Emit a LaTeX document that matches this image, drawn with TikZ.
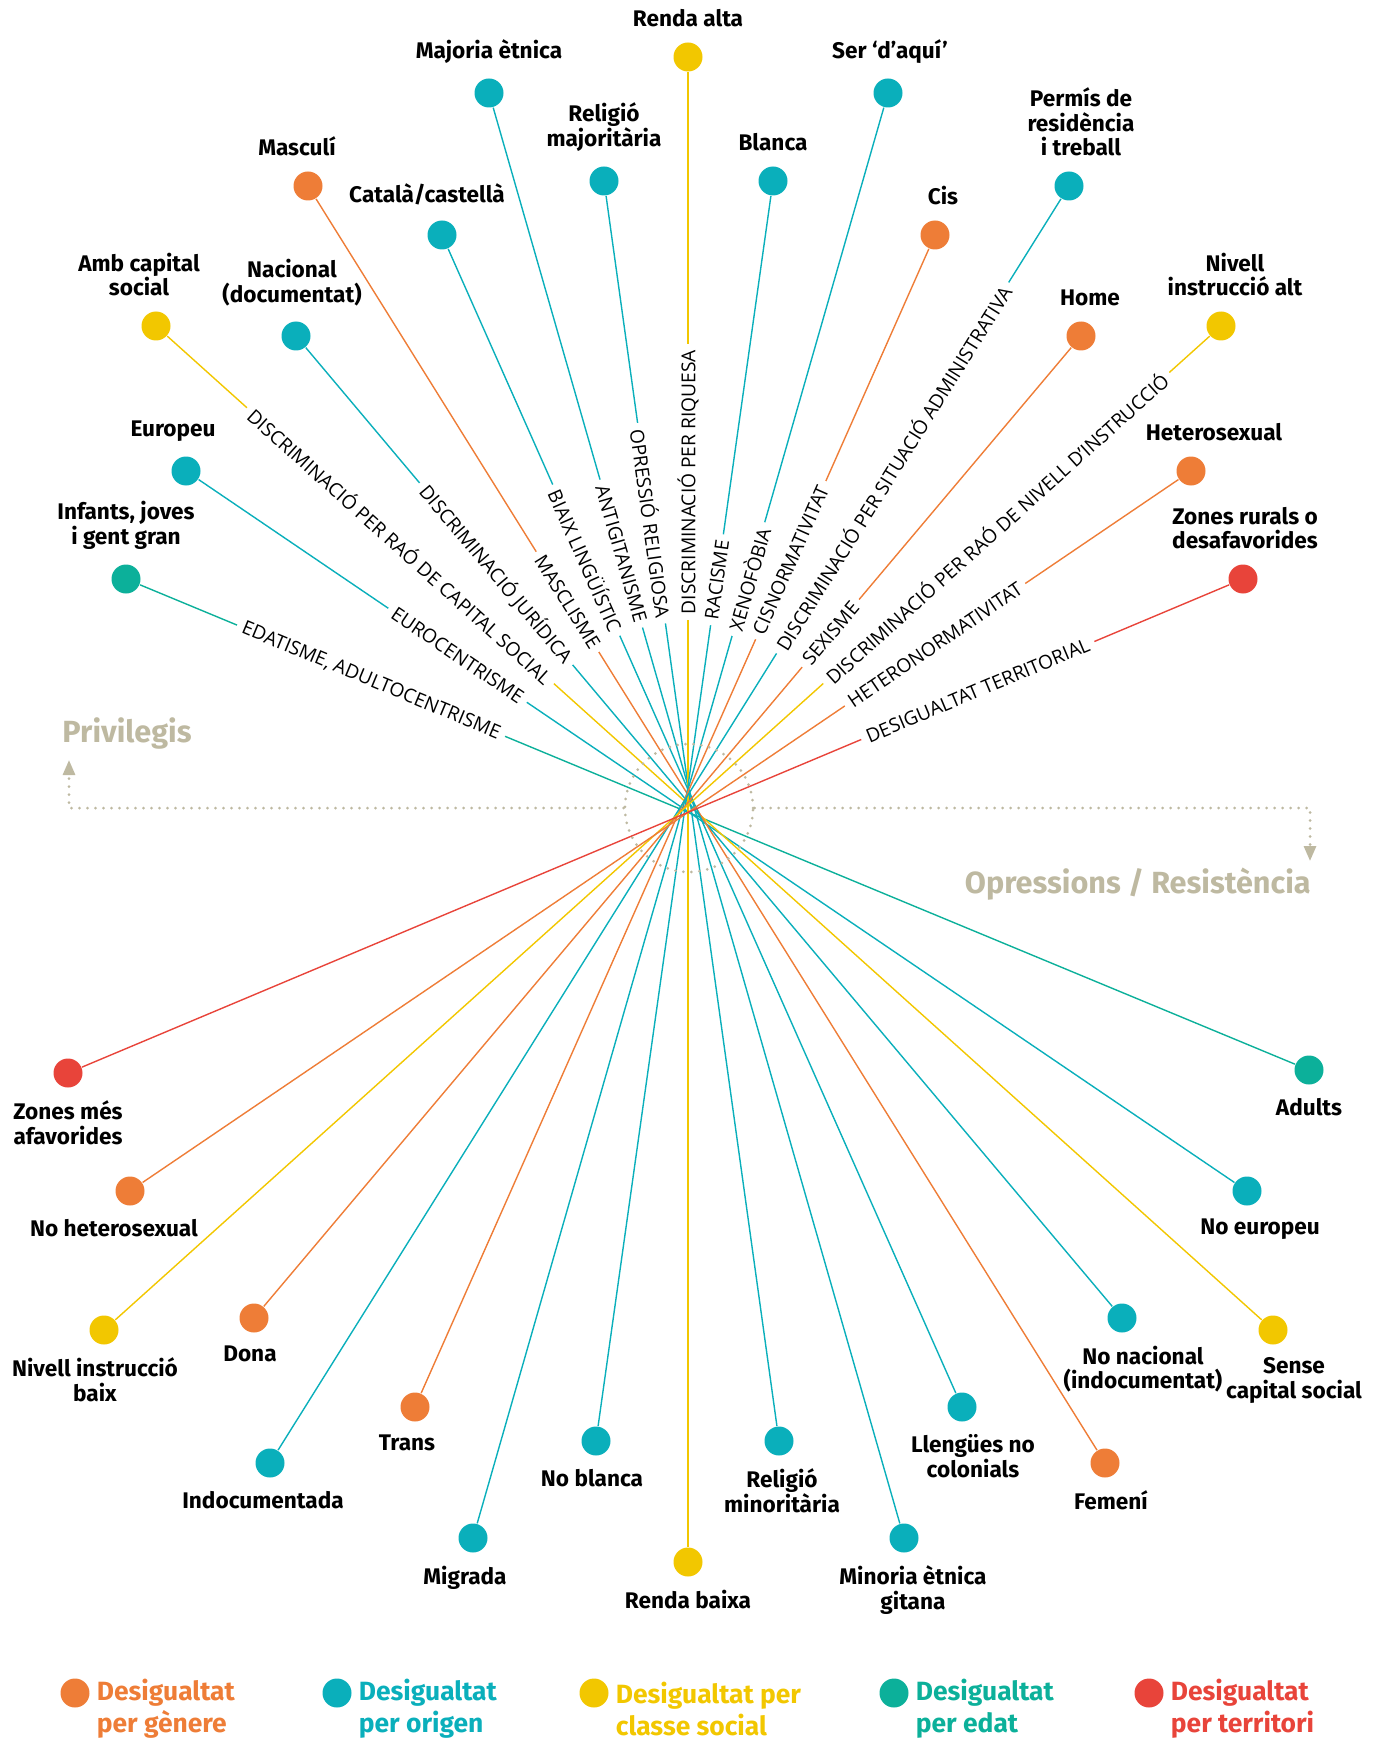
\documentclass[tikz,border=0pt]{standalone}
\usepackage{fontspec}
\setmainfont{Fira Sans}
\newfontfamily\capsfam{Open Sans}
\usetikzlibrary{arrows.meta,positioning}
\definecolor{genere}{HTML}{EE7D37}
\definecolor{origen}{HTML}{0AAFBB}
\definecolor{classe}{HTML}{F2C700}
\definecolor{edat}{HTML}{0CB09A}
\definecolor{territori}{HTML}{E8443A}
\definecolor{eixcol}{HTML}{BEB9A1}
\newcommand{\etiqfont}{\bfseries\fontsize{11.3}{12.3}\selectfont}
\newcommand{\oprfont}{\capsfam\fontsize{9.6}{10}\selectfont}
\newcommand{\eixfont}{\bfseries\fontsize{15.3}{17}\selectfont}
\newcommand{\llegfont}{\bfseries\fontsize{13.2}{16}\selectfont}

\begin{document}
\begin{tikzpicture}[x=0.5pt, y=-0.5pt, line width=0.7pt]
	  \tikzstyle{punt}=[circle, inner sep=0pt, minimum size=14.5pt]
	  \tikzstyle{etiq}=[font=\etiqfont, align=center, inner sep=1pt]
	  \tikzstyle{opr}=[font=\oprfont, text=black, fill=white, sloped, inner sep=3pt]
	  \tikzstyle{eix}=[eixcol, line width=1.5pt, line cap=round, dash pattern=on 0pt off 4pt]
	  \tikzstyle{lleg}=[font=\llegfont, align=left, inner sep=0pt]

	  \useasboundingbox (0,0) rectangle (1378,1738);

	  % privilegis
	  \node[punt, fill=classe]    (rendaA)  at (688,57)    {};
	  \node[punt, fill=origen]    (majA)    at (489,93)    {};
	  \node[punt, fill=origen]    (serA)    at (888,93)    {};
	  \node[punt, fill=origen]    (relA)    at (604,181)   {};
	  \node[punt, fill=origen]    (blancaA) at (773,181)   {};
	  \node[punt, fill=genere]    (mascA)   at (308,186)   {};
	  \node[punt, fill=origen]    (permisA) at (1069,186)  {};
	  \node[punt, fill=origen]    (catA)    at (442,235)   {};
	  \node[punt, fill=genere]    (cisA)    at (935,235)   {};
	  \node[punt, fill=classe]    (capA)    at (156,326)   {};
	  \node[punt, fill=classe]    (instrA)  at (1221,326)  {};
	  \node[punt, fill=origen]    (nacA)    at (296,336)   {};
	  \node[punt, fill=genere]    (homeA)   at (1081,336)  {};
	  \node[punt, fill=origen]    (euroA)   at (186,471)   {};
	  \node[punt, fill=genere]    (heteroA) at (1191,471)  {};
	  \node[punt, fill=edat]      (edatA)   at (126,579)   {};
	  \node[punt, fill=territori] (terrA)   at (1243,579)  {};

	  % opressions
	  \node[punt, fill=territori] (terrB)   at (68,1073)   {};
	  \node[punt, fill=edat]      (edatB)   at (1309,1070) {};
	  \node[punt, fill=genere]    (heteroB) at (130,1191)  {};
	  \node[punt, fill=origen]    (euroB)   at (1247,1191) {};
	  \node[punt, fill=classe]    (instrB)  at (104,1330)  {};
	  \node[punt, fill=classe]    (capB)    at (1273,1330) {};
	  \node[punt, fill=genere]    (homeB)   at (254,1318)  {};
	  \node[punt, fill=origen]    (nacB)    at (1122,1318) {};
	  \node[punt, fill=genere]    (cisB)    at (415,1407)  {};
	  \node[punt, fill=origen]    (catB)    at (962,1407)  {};
	  \node[punt, fill=origen]    (permisB) at (270,1463)  {};
	  \node[punt, fill=genere]    (mascB)   at (1105,1463) {};
	  \node[punt, fill=origen]    (blancaB) at (596,1441)  {};
	  \node[punt, fill=origen]    (relB)    at (779,1441)  {};
	  \node[punt, fill=origen]    (serB)    at (473,1538)  {};
	  \node[punt, fill=origen]    (majB)    at (904,1538)  {};
	  \node[punt, fill=classe]    (rendaB)  at (688,1562)  {};

	  \path (edatA)   edge[edat]      node[opr, pos=.20]  {EDATISME, ADULTOCENTRISME} (edatB)
	        (euroA)   edge[origen]    node[opr, pos=.25]  {EUROCENTRISME} (euroB)
	        (capA)    edge[classe]    node[opr, pos=.213] {DISCRIMINACIÓ PER RAÓ DE CAPITAL SOCIAL} (capB)
	        (nacA)    edge[origen]    node[opr, pos=.236] {DISCRIMINACIÓ JURÍDICA} (nacB)
	        (mascA)   edge[genere]    node[opr, pos=.322] {MASCLISME} (mascB)
	        (catA)    edge[origen]    node[opr, pos=.272] {BIAIX LINGÜÍSTIC} (catB)
	        (majA)    edge[origen]    node[opr, pos=.315] {ANTIGITANISME} (majB)
	        (relA)    edge[origen]    node[opr, pos=.266] {OPRESSIÓ RELIGIOSA} (relB)
	        (rendaB)  edge[classe]    node[opr, pos=.722] {DISCRIMINACIÓ PER RIQUESA} (rendaA)
	        (blancaA) edge[origen]    node[opr, pos=.312] {RACISME} (blancaB)
	        (serA)    edge[origen]    node[opr, pos=.333] {XENOFÒBIA} (serB)
	        (cisA)    edge[genere]    node[opr, pos=.272] {CISNORMATIVITAT} (cisB)
	        (permisA) edge[origen]    node[opr, pos=.215] {DISCRIMINACIÓ PER SITUACIÓ ADMINISTRATIVA} (permisB)
	        (homeA)   edge[genere]    node[opr, pos=.298] {SEXISME} (homeB)
	        (instrA)  edge[classe]    node[opr, pos=.195] {DISCRIMINACIÓ PER RAÓ DE NIVELL D’INSTRUCCIÓ} (instrB)
	        (heteroA) edge[genere]    node[opr, pos=.235] {HETERONORMATIVITAT} (heteroB)
	        (terrA)   edge[territori] node[opr, pos=.219] {DESIGUALTAT TERRITORIAL} (terrB);

	  % noms dels punts
	  \node[etiq] (rendaAt)  [above=6pt of rendaA]               {Renda alta};
	  \node[etiq] (majAt)    [above=6pt of majA]                 {Majoria ètnica};
	  \node[etiq] (serAt)    [above=6pt of serA, xshift=1pt]     {Ser ‘d’aquí’};
	  \node[etiq] (relAt)    [above=6pt of relA]                 {Religió\\majoritària};
	  \node[etiq] (blancaAt) [above=6pt of blancaA]              {Blanca};
	  \node[etiq] (mascAt)   [above=6pt of mascA, xshift=-5.5pt] {Masculí};
	  \node[etiq] (permisAt) [above=6pt of permisA, xshift=6pt]  {Permís de\\residència\\i treball};
	  \node[etiq] (catAt)    [above=6pt of catA, xshift=-7.5pt]  {Català/castellà};
	  \node[etiq] (cisAt)    [above=6pt of cisA, xshift=4pt]     {Cis};
	  \node[etiq] (capAt)    [above=6pt of capA, xshift=-8.5pt]  {Amb capital\\social};
	  \node[etiq] (instrAt)  [above=6pt of instrA, xshift=7pt]   {Nivell\\instrucció alt};
	  \node[etiq] (nacAt)    [above=6pt of nacA, xshift=-2pt]    {Nacional\\(documentat)};
	  \node[etiq] (homeAt)   [above=6pt of homeA, xshift=4.5pt]  {Home};
	  \node[etiq] (euroAt)   [above=6pt of euroA, xshift=-6.5pt] {Europeu};
	  \node[etiq] (heteroAt) [above=6pt of heteroA, xshift=11.5pt] {Heterosexual};
	  \node[etiq] (edatAt)   [above=6pt of edatA]                {Infants, joves\\i gent gran};
	  \node[etiq] (terrAt)   [above=6pt of terrA, xshift=1pt]    {Zones rurals o\\desafavorides};

	  \node[etiq] (terrBt)   [below=5pt of terrB]                {Zones més\\afavorides};
	  \node[etiq] (edatBt)   [below=5pt of edatB]                {Adults};
	  \node[etiq] (heteroBt) [below=5pt of heteroB, xshift=-8pt] {No heterosexual};
	  \node[etiq] (euroBt)   [below=5pt of euroB, xshift=6.5pt]  {No europeu};
	  \node[etiq] (instrBt)  [below=5pt of instrB, xshift=-4.5pt] {Nivell instrucció\\baix};
	  \node[etiq] (capBt)    [below=5pt of capB, xshift=10.5pt]  {Sense\\capital social};
	  \node[etiq] (homeBt)   [below=5pt of homeB, xshift=-2pt]   {Dona};
	  \node[etiq] (nacBt)    [below=5pt of nacB, xshift=10.5pt]  {No nacional\\(indocumentat)};
	  \node[etiq] (cisBt)    [below=5pt of cisB, xshift=-4pt]    {Trans};
	  \node[etiq] (catBt)    [below=5pt of catB, xshift=5.5pt]   {Llengües no\\colonials};
	  \node[etiq] (permisBt) [below=5pt of permisB, xshift=-3.5pt] {Indocumentada};
	  \node[etiq] (mascBt)   [below=5pt of mascB, xshift=3pt]    {Femení};
	  \node[etiq] (blancaBt) [below=5pt of blancaB, xshift=-2pt] {No blanca};
	  \node[etiq] (relBt)    [below=5pt of relB, xshift=1.5pt]   {Religió\\minoritària};
	  \node[etiq] (serBt)    [below=5pt of serB, xshift=-4pt]    {Migrada};
	  \node[etiq] (majBt)    [below=5pt of majB, xshift=4.5pt]   {Minoria ètnica\\gitana};
	  \node[etiq] (rendaBt)  [below=5pt of rendaB]               {Renda baixa};

	  % eixos
	  \node[circle, draw, eix, minimum size=64pt, inner sep=0pt] (nucli) at (689,808) {};
	  \coordinate (privT) at (69,760);
	  \coordinate (oprT)  at (1310,861);
	  \draw[eix, -{Triangle[width=6pt, length=7.5pt]}] (nucli.west) -| (privT);
	  \draw[eix, -{Triangle[width=6pt, length=7.5pt]}] (nucli.east) -| (oprT);
	  \node[font=\eixfont, text=eixcol] (priv) at (127,733) {Privilegis};
	  \node[font=\eixfont, text=eixcol, anchor=east] (opres) at (1318,884) {Opressions / Resistència};

	  % llegenda
	  \node[punt, fill=genere]    (llGen) at (75,1693)   {};
	  \node[punt, fill=origen]    (llOri) at (337,1693)  {};
	  \node[punt, fill=classe]    (llCla) at (594,1693)  {};
	  \node[punt, fill=edat]      (llEda) at (894,1693)  {};
	  \node[punt, fill=territori] (llTer) at (1149,1693) {};
	  \node[lleg, text=genere]    (llGenT) [right=3pt of llGen, yshift=-8pt] {Desigualtat\\per gènere};
	  \node[lleg, text=origen]    (llOriT) [right=3pt of llOri, yshift=-8pt] {Desigualtat\\per origen};
	  \node[lleg, text=classe]    (llClaT) [right=3pt of llCla, yshift=-8pt] {Desigualtat per\\classe social};
	  \node[lleg, text=edat]      (llEdaT) [right=3pt of llEda, yshift=-8pt] {Desigualtat\\per edat};
	  \node[lleg, text=territori] (llTerT) [right=3pt of llTer, yshift=-8pt] {Desigualtat\\per territori};
	\end{tikzpicture}
\end{document}
